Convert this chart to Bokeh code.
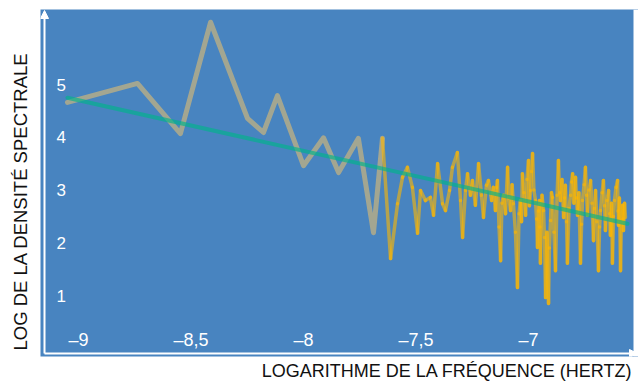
from bokeh.plotting import figure
from bokeh.models import Range1d, Arrow, NormalHead, BoxAnnotation, Title, ColumnDataSource
from bokeh.core.properties import value
from bokeh.embed import file_html
from bokeh.resources import INLINE

# ---------------- data ----------------
log_freq = [-9.049, -8.738, -8.547, -8.413, -8.249, -8.178, -8.116, -8.000, -7.911, -7.844,
            -7.756, -7.689, -7.649, -7.613, -7.582, -7.560, -7.538, -7.516, -7.493, -7.480,
            -7.458, -7.436, -7.422, -7.404, -7.382, -7.369, -7.351, -7.338, -7.316, -7.302,
            -7.293, -7.280, -7.271, -7.258, -7.249, -7.236, -7.222, -7.209, -7.200, -7.187,
            -7.178, -7.164, -7.156,
            -7.147, -7.142, -7.138, -7.131, -7.124, -7.118, -7.111, -7.102, -7.093, -7.087,
            -7.080, -7.073, -7.067, -7.058, -7.049, -7.042, -7.036, -7.031, -7.027, -7.020,
            -7.013, -7.007, -7.000, -6.996, -6.991, -6.987, -6.982, -6.976, -6.969, -6.964,
            -6.960, -6.956, -6.951, -6.949, -6.947, -6.940, -6.933, -6.929, -6.924, -6.918,
            -6.911, -6.907, -6.902, -6.898, -6.893, -6.887, -6.880, -6.873, -6.867, -6.862,
            -6.858, -6.851, -6.844, -6.840, -6.836, -6.831, -6.827, -6.820, -6.813, -6.809,
            -6.804, -6.798, -6.791, -6.787, -6.782, -6.776, -6.769, -6.764, -6.760, -6.753,
            -6.747, -6.742, -6.738, -6.731, -6.724, -6.718, -6.711, -6.707, -6.702, -6.696,
            -6.689, -6.684, -6.680, -6.673, -6.667, -6.662, -6.658, -6.651, -6.644, -6.640,
            -6.636, -6.631, -6.627, -6.622, -6.618, -6.611, -6.604, -6.602, -6.600, -6.596,
            -6.591, -6.587, -6.582, -6.580, -6.578, -6.573, -6.569]
log_density = [4.66, 5.02, 4.07, 6.18, 4.36, 4.09, 4.79, 3.46, 3.99, 3.33,
               3.98, 2.19, 3.98, 1.70, 2.74, 3.24, 3.43, 3.05, 2.18, 2.99,
               2.80, 2.86, 2.52, 3.50, 2.74, 2.61, 2.99, 3.43, 3.71, 2.80,
               2.10, 2.99, 3.31, 2.90, 3.18, 2.71, 3.50, 2.90, 2.48, 3.09,
               3.18, 2.80, 3.05,
               2.61, 3.05, 3.18, 2.30, 1.66, 2.75, 2.90, 2.55, 3.43, 2.85,
               2.61, 3.10, 2.74, 2.20, 1.15, 2.55, 2.80, 2.40, 3.31, 2.95,
               2.52, 3.20, 3.56, 2.70, 2.99, 3.35, 3.69, 3.00, 2.80, 2.45,
               1.91, 2.60, 2.80, 2.30, 1.61, 2.90, 2.61, 2.10, 0.96, 2.20,
               0.85, 1.90, 2.42, 2.95, 2.86, 2.20, 1.47, 2.90, 3.56, 2.95,
               2.80, 3.20, 2.48, 2.85, 3.09, 2.40, 1.61, 2.65, 2.90, 3.15,
               3.31, 2.75, 3.24, 2.85, 2.52, 2.95, 1.61, 2.35, 2.80, 3.10,
               3.43, 2.90, 2.52, 3.00, 3.18, 2.75, 2.04, 2.65, 2.99, 2.40,
               1.47, 2.30, 2.61, 2.95, 3.18, 2.70, 2.23, 2.80, 2.99, 2.55,
               2.14, 2.75, 1.61, 2.50, 2.80, 3.05, 3.18, 2.60, 2.33, 2.85,
               1.47, 2.40, 2.71, 2.45, 2.23, 2.75, 2.48]
trend_x = [-9.049, -6.560]
trend_y = [4.75, 2.36]
n_sparse = 12  # first points, drawn as the wide grey trace

y_ticks = [1, 2, 3, 4, 5]
y_tick_labels = ["1", "2", "3", "4", "5"]
x_ticks = [-9, -8.5, -8, -7.5, -7]
x_tick_labels = ["\u20139", "\u20138,5", "\u20138", "\u20137,5", "\u20137"]
x_title = "LOGARITHME DE LA FRÉQUENCE (HERTZ)"
y_title = "LOG DE LA DENSITÉ SPECTRALE"

# ---------------- layout ----------------
W, H = 638, 384
FL, FR, FT, FB = 40, 638, 9, 356          # frame pixel edges
PX_X, X9_PX = 225.0, 78.0                   # px per unit, pixel of x=-9
PX_Y, Y5_PX = 52.75, 84.0                   # px per unit, pixel of y=5


def xd(px):
    return -9 + (px - X9_PX) / PX_X


def yd(py):
    return 5 - (py - Y5_PX) / PX_Y


FONT = "Liberation Sans"
BLUE = "#4884c0"

p = figure(width=W, height=H,
           x_range=Range1d(xd(FL), xd(FR)), y_range=Range1d(yd(FB), yd(FT)),
           output_backend="svg", toolbar_location=None,
           min_border_left=FL, min_border_right=W - FR, min_border_top=FT,
           min_border_bottom=H - FB,
           background_fill_color=BLUE, border_fill_color="white",
           outline_line_color=None)
p.xaxis.visible = False
p.yaxis.visible = False
p.grid.visible = False

p.add_layout(Title(text=x_title, align="right", offset=6, standoff=4,
                   text_font=FONT, text_font_size="18px", text_font_style="normal",
                   text_color="#111111"), "below")
p.add_layout(Title(text=y_title, align="left", offset=6, standoff=16, vertical_align="top",
                   text_font=FONT, text_font_size="18.5px", text_font_style="normal",
                   text_color="#111111"), "left")

# white strip right of the blue panel
p.add_layout(BoxAnnotation(left=xd(633), fill_color="white", fill_alpha=1.0, line_color=None))

# spectrum: wide grey low-frequency trace
p.line(log_freq[:n_sparse + 1], log_density[:n_sparse + 1], line_width=5,
       line_color="#d4b878", line_alpha=0.65, line_cap="round", line_join="round")
# dense high-frequency part
xs = log_freq[n_sparse:]
ys = log_density[n_sparse:]
p.segment(x0=xs[:-1], y0=ys[:-1], x1=xs[1:], y1=ys[1:], line_width=3.5,
          line_color="#ffb800", line_alpha=0.6, line_cap="round")
# trend line
p.line(trend_x, trend_y, line_width=4, line_color="#00b38a", line_alpha=0.65, line_cap="round")

# tick labels inside the panel
ysrc = ColumnDataSource(dict(x=[xd(FL)] * len(y_ticks), y=y_ticks, t=y_tick_labels))
p.text(x="x", y="y", text="t", source=ysrc, x_offset=16, text_align="left",
       text_baseline="middle", text_color="white", text_font=value(FONT),
       text_font_size="17px")
xsrc = ColumnDataSource(dict(x=x_ticks, y=[yd(FB)] * len(x_ticks), t=x_tick_labels))
p.text(x="x", y="y", text="t", source=xsrc, y_offset=-17, text_align="center",
       text_baseline="middle", text_color="white", text_font=value(FONT),
       text_font_size="18px")

# axis arrows
head = dict(size=8, fill_color="white", line_color="white")
p.add_layout(Arrow(end=NormalHead(**head), x_start=xd(44), y_start=yd(353),
                   x_end=xd(44), y_end=yd(10), line_color="white", line_width=2))
p.add_layout(Arrow(end=NormalHead(**head), x_start=xd(44), y_start=yd(353),
                   x_end=xd(637), y_end=yd(353), line_color="white", line_width=2))

open("out.html", "w").write(file_html(p, INLINE))
